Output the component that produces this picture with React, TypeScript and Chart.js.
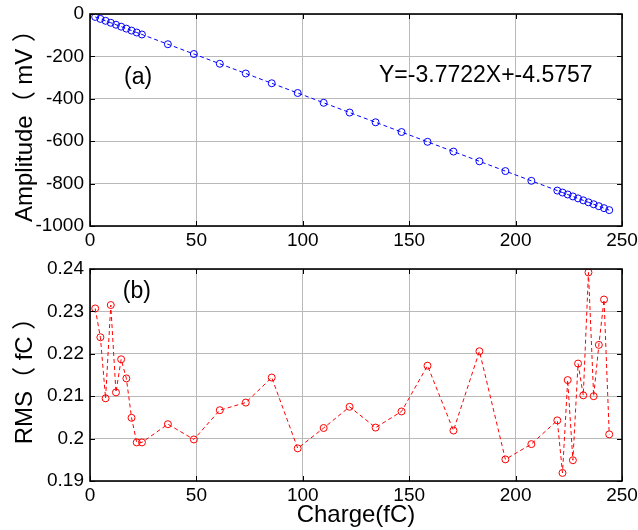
import React, { useEffect, useRef } from "react";
import { Chart, registerables } from "chart.js";
Chart.register(...registerables);

const charge = [
  2.44, 4.88, 7.32, 9.76, 12.2, 14.64, 17.08, 19.52, 21.96, 24.4,
  36.6, 48.8, 61.0, 73.2, 85.4, 97.6, 109.8, 122.0, 134.2, 146.4,
  158.6, 170.8, 183.0, 195.2, 207.4, 219.6,
  222.04, 224.48, 226.92, 229.36, 231.8, 234.24, 236.68, 239.12, 241.56, 244.0,
];
const amplitude = [
  -13.8, -23.0, -32.2, -41.4, -50.6, -59.8, -69.0, -78.2, -87.4, -96.6,
  -142.6, -188.7, -234.7, -280.7, -326.7, -372.7, -418.8, -464.8, -510.8, -556.8,
  -602.9, -648.9, -694.9, -740.9, -786.9, -833.0,
  -842.2, -851.4, -860.6, -869.8, -879.0, -888.2, -897.4, -906.6, -915.8, -925.0,
];
const rms = [
  0.2307, 0.2239, 0.2095, 0.2315, 0.2109, 0.2187, 0.2142, 0.2049, 0.1991, 0.1991,
  0.2034, 0.1998, 0.2067, 0.2085, 0.2144, 0.1977, 0.2025, 0.2075, 0.2026, 0.2064,
  0.2172, 0.2019, 0.2206, 0.1951, 0.1987, 0.2043,
  0.1919, 0.2138, 0.1949, 0.2177, 0.2102, 0.2392, 0.2100, 0.2221, 0.2328, 0.2010,
];
const xTicks = [0, 50, 100, 150, 200, 250];
const ampTicks = [-1000, -800, -600, -400, -200, 0];
const rmsTicks = [0.19, 0.2, 0.21, 0.22, 0.23, 0.24];

const FONT = "'Liberation Sans', Arial, 'Noto Sans CJK SC', sans-serif";

const framePlugin = {
  id: "frame",
  afterDraw(chart: any, _args: any, opts: any) {
    const { ctx, chartArea: a, scales } = chart;
    ctx.save();
    ctx.strokeStyle = "#000";
    ctx.lineWidth = 1;
    const tl = 5;
    ctx.beginPath();
    scales.x.ticks.forEach((t: any) => {
      const px = Math.round(scales.x.getPixelForValue(t.value)) + 0.5;
      ctx.moveTo(px, a.bottom);
      ctx.lineTo(px, a.bottom - tl);
      ctx.moveTo(px, a.top);
      ctx.lineTo(px, a.top + tl);
    });
    scales.y.ticks.forEach((t: any) => {
      const py = Math.round(scales.y.getPixelForValue(t.value)) + 0.5;
      ctx.moveTo(a.left, py);
      ctx.lineTo(a.left + tl, py);
      ctx.moveTo(a.right, py);
      ctx.lineTo(a.right - tl, py);
    });
    ctx.stroke();
    ctx.lineWidth = 1.6;
    ctx.strokeRect(a.left, a.top, a.right - a.left, a.bottom - a.top);
    ctx.fillStyle = "#000";
    ctx.font = `23px ${FONT}`;
    ctx.textAlign = "center";
    ctx.textBaseline = "middle";
    (opts.texts || []).forEach((t: any) => {
      ctx.fillText(t.text, scales.x.getPixelForValue(t.x), scales.y.getPixelForValue(t.y));
    });
    ctx.restore();
  },
};

function makeConfig(
  data: number[],
  color: string,
  yMin: number,
  yMax: number,
  yTickVals: number[],
  yTitle: string,
  xTitle: string | null,
  padTop: number,
  xHeight: number,
  texts: any[]
): any {
  return {
    type: "line",
    data: {
      datasets: [
        {
          data: charge.map((c, i) => ({ x: c, y: data[i] })),
          borderColor: color,
          borderWidth: 1,
          borderDash: [4, 3],
          pointRadius: 3.5,
          pointBorderWidth: 1,
          pointBorderColor: color,
          pointBackgroundColor: "rgba(0,0,0,0)",
          pointStyle: "circle",
          fill: false,
          tension: 0,
        },
      ],
    },
    options: {
      responsive: false,
      animation: false,
      events: [],
      layout: { padding: { left: 0, right: 16, top: padTop, bottom: 0 } },
      plugins: {
        legend: { display: false },
        tooltip: { enabled: false },
        frame: { texts },
      },
      scales: {
        x: {
          type: "linear",
          min: 0,
          max: 250,
          afterBuildTicks: (s: any) => {
            s.ticks = xTicks.map((v) => ({ value: v }));
          },
          afterFit: (s: any) => {
            s.height = xHeight;
            s.paddingLeft = 0;
            s.paddingRight = 0;
          },
          grid: { color: "#b9b9b9", lineWidth: 1, drawTicks: false },
          border: { display: false },
          ticks: {
            color: "#000",
            font: { family: FONT, size: 19 },
            padding: 3,
            maxRotation: 0,
            autoSkip: false,
            callback: (v: any) => String(v),
          },
          title: xTitle
            ? {
                display: true,
                text: xTitle,
                color: "#000",
                font: { family: FONT, size: 24 },
                padding: { top: 0, bottom: 0 },
              }
            : { display: false },
        },
        y: {
          type: "linear",
          min: yMin,
          max: yMax,
          afterBuildTicks: (s: any) => {
            s.ticks = yTickVals.map((v) => ({ value: v }));
          },
          afterFit: (s: any) => {
            s.width = 90;
            s.paddingTop = 0;
            s.paddingBottom = 0;
          },
          grid: { color: "#b9b9b9", lineWidth: 1, drawTicks: false },
          border: { display: false },
          ticks: {
            color: "#000",
            font: { family: FONT, size: 19 },
            padding: 6,
            callback: (v: any) => String(parseFloat(Number(v).toFixed(2))),
          },
          title: {
            display: true,
            text: yTitle,
            color: "#000",
            font: { family: FONT, size: 24 },
            padding: { top: 11, bottom: 0 },
          },
        },
      },
    },
    plugins: [framePlugin],
  };
}

export default function App() {
  const topRef = useRef<HTMLCanvasElement | null>(null);
  const botRef = useRef<HTMLCanvasElement | null>(null);

  useEffect(() => {
    const c1 = new Chart(
      topRef.current as HTMLCanvasElement,
      makeConfig(amplitude, "#0000ff", -1000, 0, ampTicks, "Amplitude（ mV ）", null, 14, 29, [
        { text: "(a)", x: 22.6, y: -298 },
        { text: "Y=-3.7722X+-4.5757", x: 186, y: -293 },
      ])
    );
    const c2 = new Chart(
      botRef.current as HTMLCanvasElement,
      makeConfig(rms, "#ff0000", 0.19, 0.24, rmsTicks, "RMS（ fC ）", "Charge(fC)", 19, 49, [
        { text: "(b)", x: 22, y: 0.2346 },
      ])
    );
    return () => {
      c1.destroy();
      c2.destroy();
    };
  }, []);

  return (
    <div style={{ position: "fixed", left: 0, top: 0, width: 638, height: 530, background: "#fff" }}>
      <canvas ref={topRef} width={638} height={255} style={{ position: "absolute", left: 0, top: 0, width: 638, height: 255 }} />
      <canvas ref={botRef} width={638} height={280} style={{ position: "absolute", left: 0, top: 250, width: 638, height: 280 }} />
    </div>
  );
}
